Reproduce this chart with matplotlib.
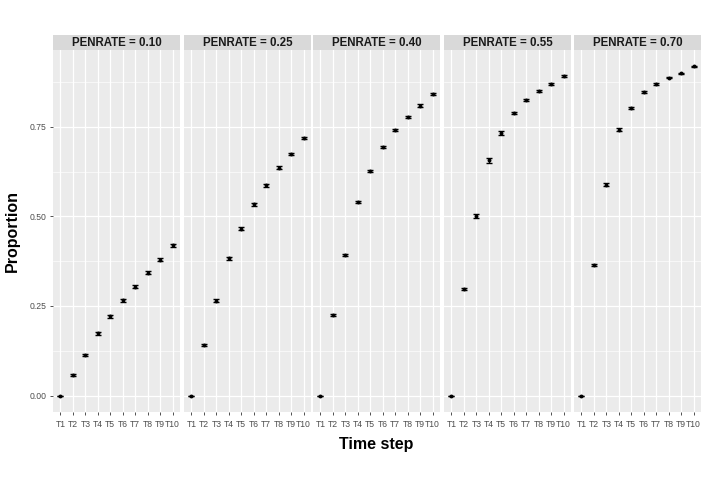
import matplotlib
matplotlib.use("Agg")
import matplotlib.pyplot as plt
import numpy as np

plt.rcParams['font.family'] = ['Liberation Sans', 'DejaVu Sans']

steps = ["T1", "T2", "T3", "T4", "T5", "T6", "T7", "T8", "T9", "T10"]
penrates = ["0.10", "0.25", "0.40", "0.55", "0.70"]

prop_010 = [0.0, 0.057, 0.114, 0.174, 0.221, 0.266, 0.303, 0.343, 0.379, 0.419]
prop_025 = [0.0, 0.142, 0.264, 0.383, 0.465, 0.533, 0.586, 0.635, 0.674, 0.718]
prop_040 = [0.0, 0.224, 0.392, 0.540, 0.626, 0.694, 0.741, 0.778, 0.809, 0.841]
prop_055 = [0.0, 0.297, 0.501, 0.656, 0.732, 0.789, 0.824, 0.850, 0.869, 0.892]
prop_070 = [0.0, 0.364, 0.588, 0.741, 0.801, 0.847, 0.869, 0.887, 0.899, 0.918]

err_010 = [0.0, 0.002, 0.003, 0.004, 0.004, 0.004, 0.004, 0.004, 0.004, 0.004]
err_025 = [0.0, 0.003, 0.004, 0.004, 0.004, 0.004, 0.004, 0.004, 0.004, 0.003]
err_040 = [0.0, 0.003, 0.004, 0.004, 0.003, 0.003, 0.003, 0.003, 0.003, 0.002]
err_055 = [0.0, 0.004, 0.005, 0.006, 0.005, 0.003, 0.003, 0.002, 0.002, 0.002]
err_070 = [0.0, 0.004, 0.004, 0.004, 0.003, 0.002, 0.002, 0.002, 0.002, 0.002]

props = [prop_010, prop_025, prop_040, prop_055, prop_070]
errs = [err_010, err_025, err_040, err_055, err_070]

W, H = 706, 486
fig = plt.figure(figsize=(W / 100, H / 100), dpi=100)
fig.patch.set_facecolor("white")

lefts = [53, 184, 313, 444, 574]
pw = 127
top_px, bot_px, strip_px = 50, 412, 15
x = np.arange(len(steps))

for i, (lp, pr) in enumerate(zip(lefts, penrates)):
    ax = fig.add_axes([lp / W, 1 - bot_px / H, pw / W, (bot_px - top_px) / H])
    ax.set_facecolor("#EBEBEB")
    ax.set_xlim(-0.6, len(steps) - 0.4)
    ax.set_ylim(-0.046, 0.964)
    ax.set_yticks([0, 0.25, 0.5, 0.75])
    ax.set_yticks([0.125, 0.375, 0.625, 0.875], minor=True)
    ax.set_xticks(x)
    ax.set_xticklabels(steps)
    ax.grid(which="major", color="white", linewidth=0.9)
    ax.grid(which="minor", axis="y", color="white", linewidth=0.45)
    ax.set_axisbelow(True)
    for s in ax.spines.values():
        s.set_visible(False)
    ax.tick_params(axis="both", which="major", length=2.5, width=0.6,
                   color="#333333", labelcolor="#4D4D4D", labelsize=6.2, pad=2)
    ax.tick_params(axis="x", pad=3)
    ax.tick_params(which="minor", length=0)
    if i == 0:
        ax.set_yticklabels(["0.00", "0.25", "0.50", "0.75"])
    else:
        ax.tick_params(axis="y", length=0, labelleft=False)

    ax.errorbar(x, props[i], yerr=errs[i], fmt="o", color="black",
                markersize=1.8, elinewidth=1.0, capsize=2.4, capthick=1.0)

    sax = fig.add_axes([lp / W, 1 - top_px / H, pw / W, strip_px / H])
    sax.set_facecolor("#D9D9D9")
    sax.set_xticks([])
    sax.set_yticks([])
    for s in sax.spines.values():
        s.set_visible(False)
    sax.text(0.5, 0.45, f"PENRATE = {pr}", ha="center", va="center",
             fontsize=8.3, fontweight="bold", color="#1A1A1A",
             transform=sax.transAxes)

fig.text(12 / W, 1 - 231 / H, "Proportion", rotation=90, ha="center",
         va="center", fontsize=11.5, fontweight="bold")
fig.text(376 / W, 1 - 444 / H, "Time step", ha="center", va="center",
         fontsize=11.5, fontweight="bold")

fig.savefig("out.png", dpi=100)
